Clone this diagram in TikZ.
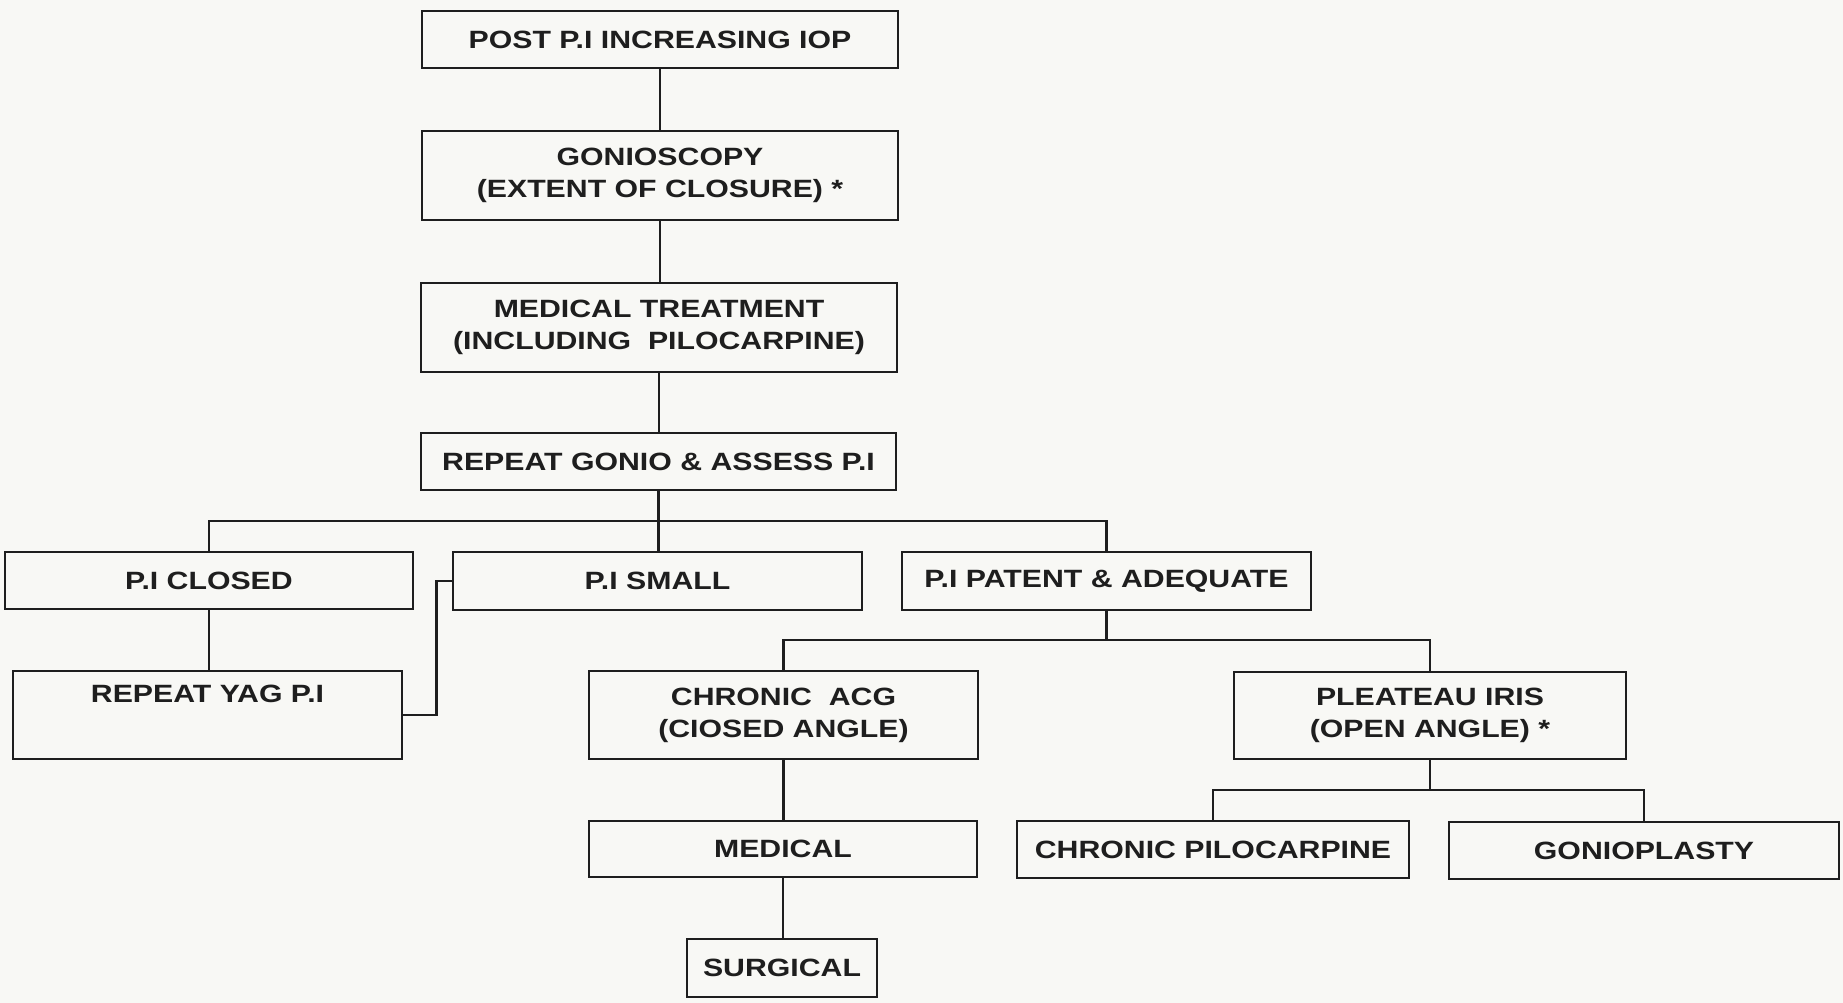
\documentclass[tikz,border=0pt]{standalone}
\usepackage{fontspec}
\newfontfamily\boxfont[FakeStretch=1.21]{Liberation Sans}
\definecolor{ink}{HTML}{1E1E1E}
\definecolor{paper}{HTML}{F8F8F5}
\begin{document}
\begin{tikzpicture}[x=1pt,y=-1pt,
  box/.style={draw=ink, line width=2.8pt, rectangle, inner sep=0pt, align=center,
    text=ink, font=\boxfont\bfseries\fontsize{25pt}{32pt}\selectfont},
  link/.style={draw=ink, line width=2.4pt}]
  % page
  \fill[paper] (0,0) rectangle (1843,1003);
  \useasboundingbox (0,0) rectangle (1843,1003);

  % main column
  \node[box, minimum width=476pt, minimum height=57pt] (top) at (660,39.5) {POST P.I INCREASING IOP};
  \node[box, minimum width=476pt, minimum height=89pt] (gonio) at (660,175.5) {GONIOSCOPY\\(EXTENT OF CLOSURE) *};
  \node[box, minimum width=476pt, minimum height=89pt] (medtreat) at (659,327.5) {MEDICAL TREATMENT\\(INCLUDING\ \ PILOCARPINE)};
  \node[box, minimum width=475pt, minimum height=57pt] (repeat) at (658.5,461.5) {REPEAT GONIO \& ASSESS P.I};

  % state of the iridotomy
  \node[box, minimum width=408pt, minimum height=57pt] (closed) at (209,580.5) {P.I CLOSED};
  \node[box, minimum width=409pt, minimum height=58pt] (small) at (657.5,581) {P.I SMALL};
  \node[box, minimum width=409pt, minimum height=58pt] (patent) at (1106.5,581) {P.I PATENT \& ADEQUATE};

  % follow-up
  \node[box, minimum width=389pt, minimum height=88pt] (yag) at (207.5,715) {REPEAT YAG P.I\\\strut};
  \node[box, minimum width=389pt, minimum height=88pt] (acg) at (783.5,715) {CHRONIC\ \ ACG\\(CIOSED ANGLE)};
  \node[box, minimum width=392pt, minimum height=87pt] (plateau) at (1430,715.5) {PLEATEAU IRIS\\(OPEN ANGLE) *};
  \node[box, minimum width=388pt, minimum height=56pt] (medical) at (783,849) {MEDICAL};
  \node[box, minimum width=190pt, minimum height=58pt] (surgical) at (782,968) {SURGICAL};
  \node[box, minimum width=392pt, minimum height=57pt] (pilo) at (1213,849.5) {CHRONIC PILOCARPINE};
  \node[box, minimum width=390pt, minimum height=57pt] (gplasty) at (1644,850.5) {GONIOPLASTY};

  % branch levels
  \coordinate (busA) at (0,521);
  \coordinate (busB) at (0,640);
  \coordinate (busC) at (0,790);

  % connectors
  \draw[link] (top.south) -- (top.south |- gonio.north);
  \draw[link] (gonio.south) -- (gonio.south |- medtreat.north);
  \draw[link] (medtreat.south) -- (medtreat.south |- repeat.north);
  \draw[link] (repeat.south) -- (repeat.south |- small.north);
  \draw[link] (closed.north) -- (closed.north |- busA) -| (patent.north);
  \draw[link] (closed.south) -- (closed.south |- yag.north);
  \draw[link] (yag.east) -- ++(33,0) |- (small.west);
  \draw[link] (patent.south) -- (patent.south |- busB);
  \draw[link] (acg.north) -- (acg.north |- busB) -| (plateau.north);
  \draw[link] (acg.south) -- (acg.south |- medical.north);
  \draw[link] (medical.south) -- (medical.south |- surgical.north);
  \draw[link] (plateau.south) -- (plateau.south |- busC);
  \draw[link] (pilo.north) -- (pilo.north |- busC) -| (gplasty.north);
\end{tikzpicture}
\end{document}
